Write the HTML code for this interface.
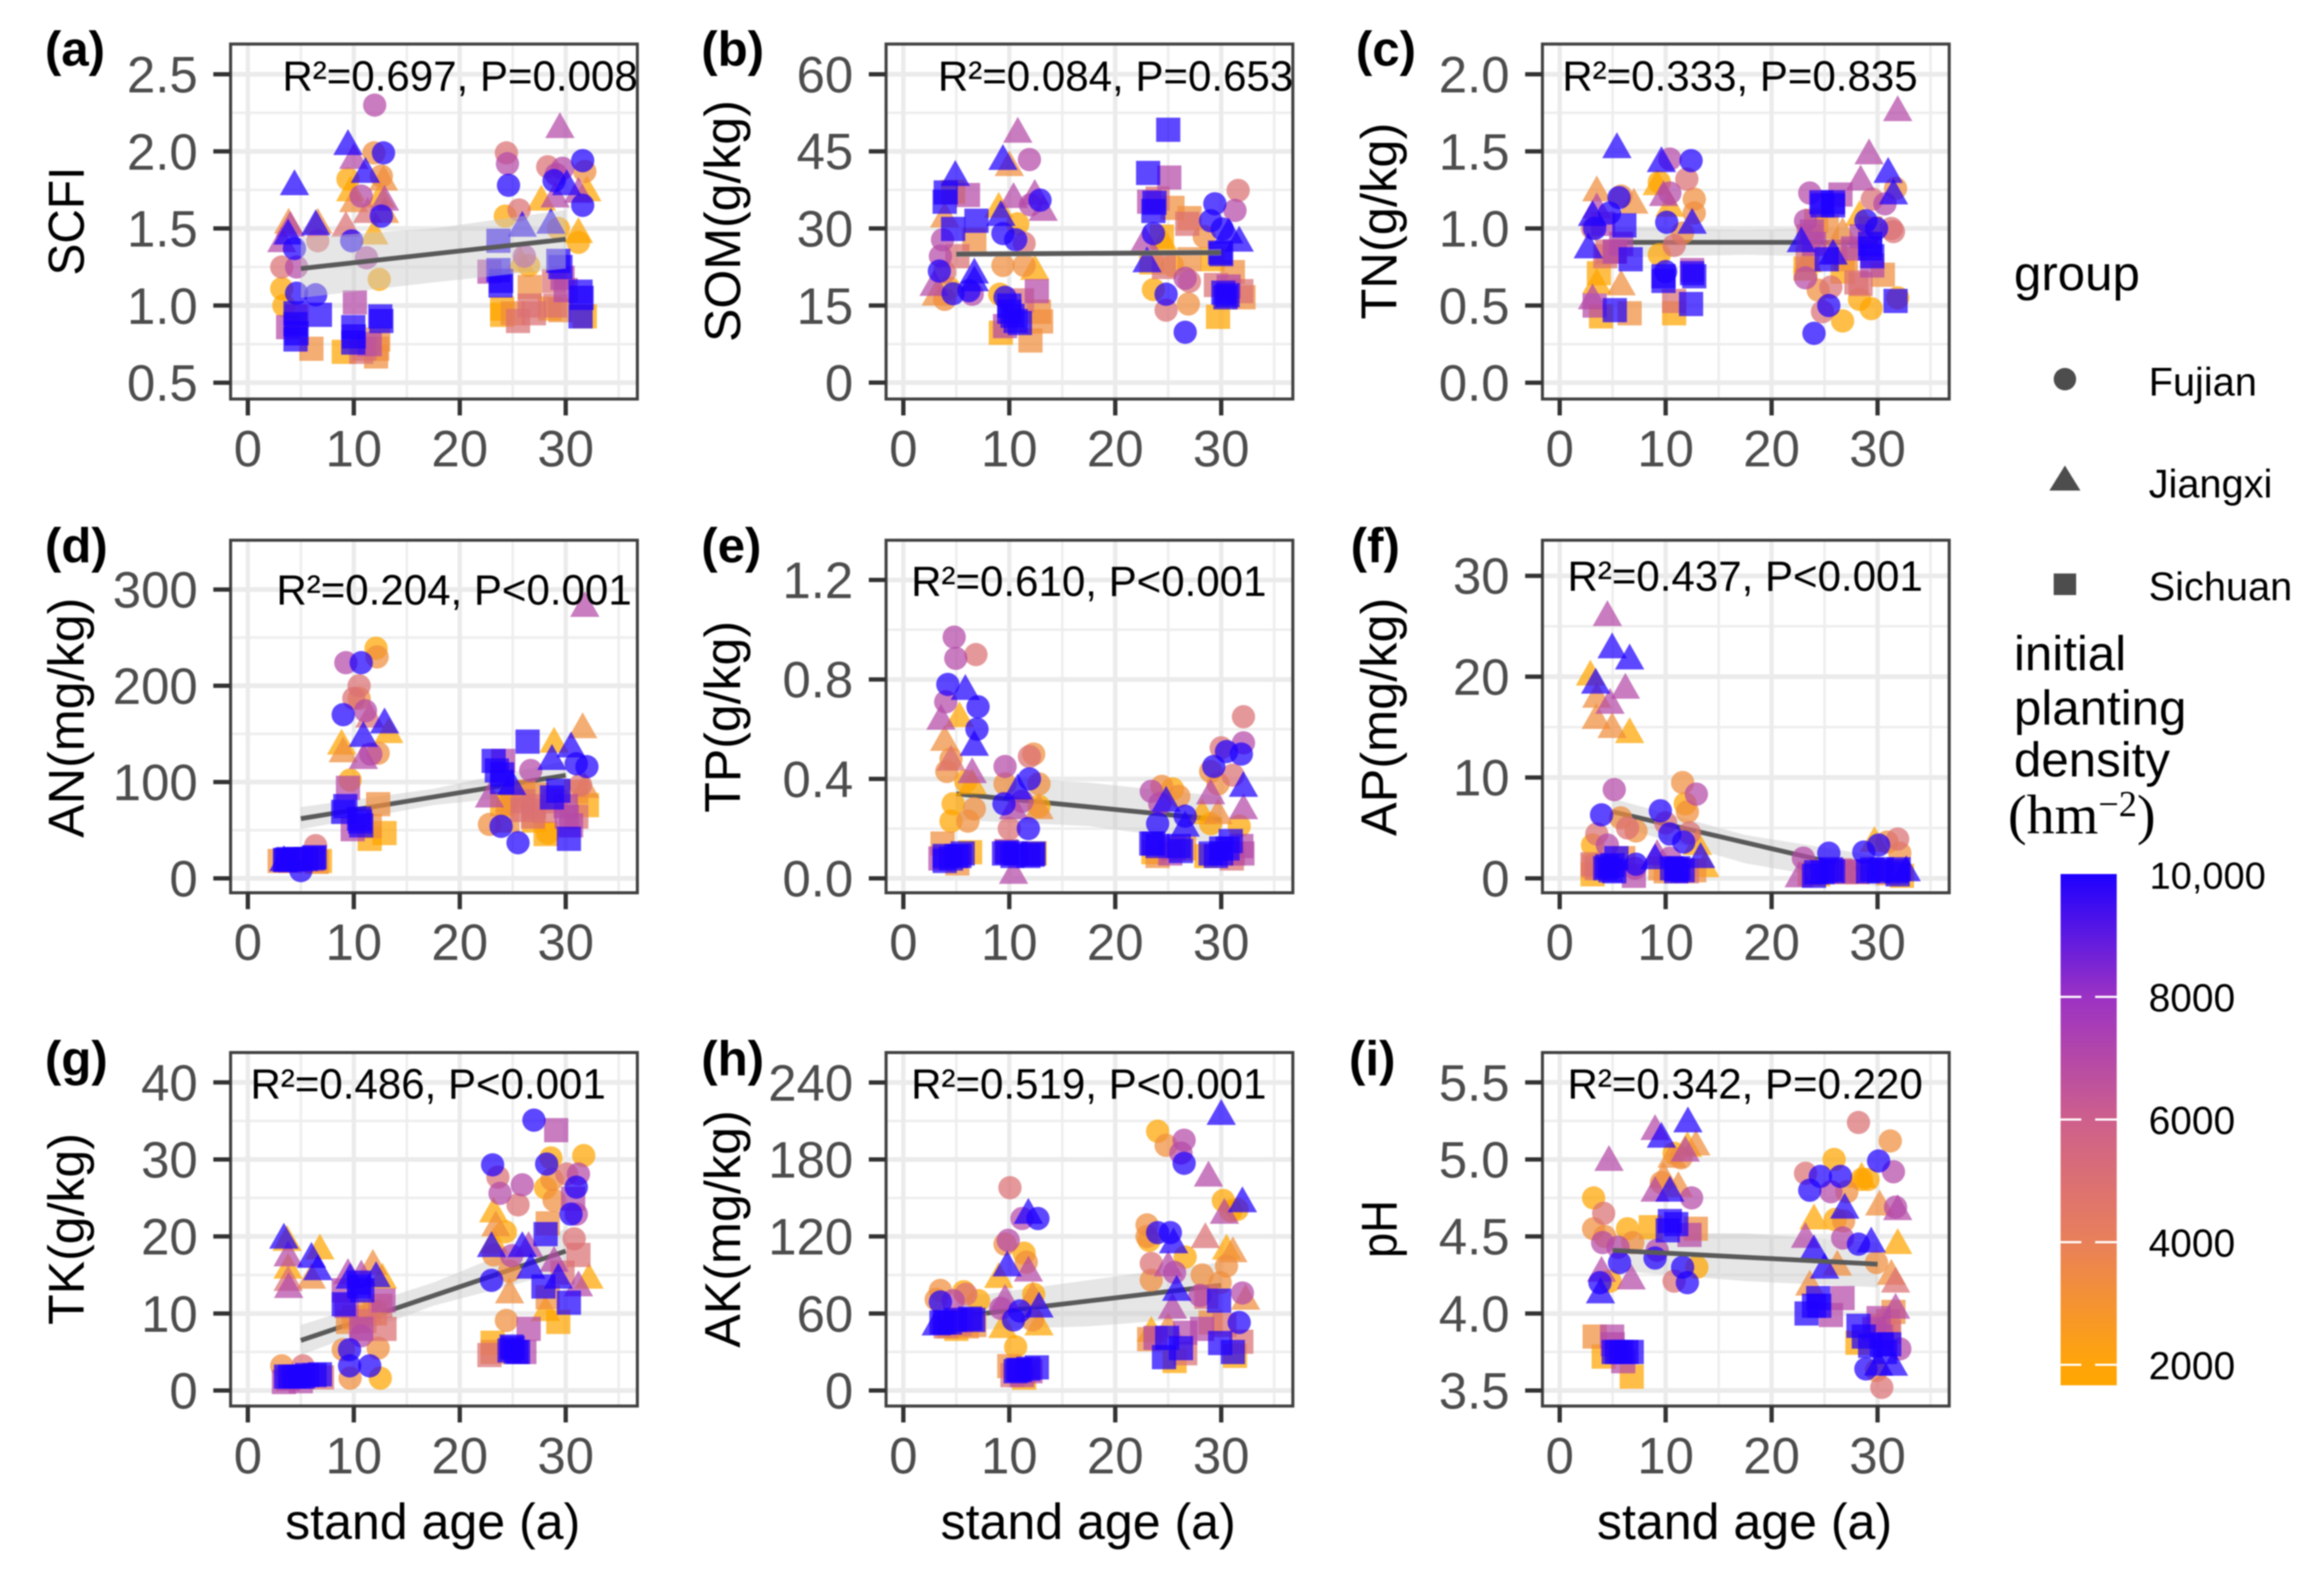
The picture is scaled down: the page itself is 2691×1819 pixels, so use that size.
<!DOCTYPE html>
<html lang="en">
<head>
<meta charset="utf-8">
<title>Soil properties versus stand age</title>
<style>
html,body{margin:0;padding:0;background:#fff;}
svg{display:block;filter:blur(0.9px);}
text{font-family:"Liberation Sans",sans-serif;}
.tag{font-size:57px;font-weight:bold;fill:#000;}
.ytitle{font-size:58px;fill:#000;text-anchor:middle;}
.xtitle{font-size:58px;fill:#000;text-anchor:middle;}
.stat{font-size:48.7px;fill:#000;}
.legtitle{font-size:57px;fill:#000;}
.leglabel{font-size:46px;fill:#000;}
</style>
</head>
<body>
<svg id="chart" xmlns="http://www.w3.org/2000/svg" width="2691" height="1819" viewBox="0 0 2691 1819">
<defs>
<linearGradient id="density-gradient" x1="0" y1="1" x2="0" y2="0">
<stop offset="0" stop-color="#FFA500"/>
<stop offset="0.042" stop-color="#FFA50A"/>
<stop offset="0.281" stop-color="#E8805A"/>
<stop offset="0.521" stop-color="#CD5F8C"/>
<stop offset="0.76" stop-color="#9B32C3"/>
<stop offset="1" stop-color="#1E00FF"/>
</linearGradient>
</defs>
<rect width="2691" height="1819" fill="#fff"/>

<g id="panel-a"></g>
<g id="panel-b"></g>
<g id="panel-c"></g>
<g id="panel-d"></g>
<g id="panel-e"></g>
<g id="panel-f"></g>
<g id="panel-g"></g>
<g id="panel-h"></g>
<g id="panel-i"></g>

<text class="tag" x="52" y="76">(a)</text>
<text class="tag" x="812" y="76">(b)</text>
<text class="tag" x="1570" y="76">(c)</text>
<text class="tag" x="52" y="651">(d)</text>
<text class="tag" x="812" y="651">(e)</text>
<text class="tag" x="1564" y="651">(f)</text>
<text class="tag" x="52" y="1245">(g)</text>
<text class="tag" x="812" y="1245">(h)</text>
<text class="tag" x="1562" y="1245">(i)</text>

<text class="ytitle" transform="translate(97,256) rotate(-90)" textLength="126" lengthAdjust="spacingAndGlyphs">SCFI</text>
<text class="ytitle" transform="translate(857,256) rotate(-90)" textLength="280" lengthAdjust="spacingAndGlyphs">SOM(g/kg)</text>
<text class="ytitle" transform="translate(1617,256) rotate(-90)" textLength="228" lengthAdjust="spacingAndGlyphs">TN(g/kg)</text>
<text class="ytitle" transform="translate(97,831) rotate(-90)" textLength="278" lengthAdjust="spacingAndGlyphs">AN(mg/kg)</text>
<text class="ytitle" transform="translate(857,830) rotate(-90)" textLength="222" lengthAdjust="spacingAndGlyphs">TP(g/kg)</text>
<text class="ytitle" transform="translate(1617,830) rotate(-90)" textLength="276" lengthAdjust="spacingAndGlyphs">AP(mg/kg)</text>
<text class="ytitle" transform="translate(97,1423) rotate(-90)" textLength="222" lengthAdjust="spacingAndGlyphs">TK(g/kg)</text>
<text class="ytitle" transform="translate(857,1423) rotate(-90)" textLength="275" lengthAdjust="spacingAndGlyphs">AK(mg/kg)</text>
<text class="ytitle" transform="translate(1617,1423) rotate(-90)" textLength="67" lengthAdjust="spacingAndGlyphs">pH</text>

<text class="xtitle" x="501" y="1782">stand age (a)</text>
<text class="xtitle" x="1260" y="1782">stand age (a)</text>
<text class="xtitle" x="2020" y="1782">stand age (a)</text>

<text class="stat" x="327" y="105">R²=0.697, P=0.008</text>
<text class="stat" x="1086" y="105">R²=0.084, P=0.653</text>
<text class="stat" x="1809" y="105">R²=0.333, P=0.835</text>
<text class="stat" x="320" y="700">R²=0.204, P&lt;0.001</text>
<text class="stat" x="1055" y="690">R²=0.610, P&lt;0.001</text>
<text class="stat" x="1815" y="684">R²=0.437, P&lt;0.001</text>
<text class="stat" x="290" y="1272">R²=0.486, P&lt;0.001</text>
<text class="stat" x="1055" y="1272">R²=0.519, P&lt;0.001</text>
<text class="stat" x="1815" y="1272">R²=0.342, P=0.220</text>

<g>
<text class="legtitle" x="2332" y="336">group</text>
<circle cx="2391" cy="439" r="13" fill="#4D4D4D"/>
<text class="leglabel" x="2488" y="458">Fujian</text>
<polygon points="2391,539 2409,568 2373,568" fill="#4D4D4D"/>
<text class="leglabel" x="2488" y="576">Jiangxi</text>
<rect x="2378" y="664" width="26" height="25" fill="#4D4D4D"/>
<text class="leglabel" x="2488" y="695">Sichuan</text>
</g>

<g>
<text class="legtitle" x="2332" y="776">initial</text>
<text class="legtitle" x="2332" y="839">planting</text>
<text class="legtitle" x="2332" y="899">density</text>
<text x="2325" y="965" style="font-family:'Liberation Serif',serif;font-size:65px">(hm<tspan dy="-20" font-size="42">−2</tspan><tspan dy="20">)</tspan></text>
<rect x="2386" y="1012" width="65" height="592" fill="url(#density-gradient)"/>
<rect x="2386" y="1153" width="24" height="2.5" fill="#fff"/>
<rect x="2426" y="1153" width="25" height="2.5" fill="#fff"/>
<rect x="2386" y="1295" width="24" height="2.5" fill="#fff"/>
<rect x="2426" y="1295" width="25" height="2.5" fill="#fff"/>
<rect x="2386" y="1437" width="24" height="2.5" fill="#fff"/>
<rect x="2426" y="1437" width="25" height="2.5" fill="#fff"/>
<rect x="2386" y="1579" width="24" height="2.5" fill="#fff"/>
<rect x="2426" y="1579" width="25" height="2.5" fill="#fff"/>
<text class="leglabel" x="2489" y="1029" style="font-size:44px">10,000</text>
<text class="leglabel" x="2488" y="1171" style="font-size:45px">8000</text>
<text class="leglabel" x="2488" y="1313" style="font-size:45px">6000</text>
<text class="leglabel" x="2488" y="1455" style="font-size:45px">4000</text>
<text class="leglabel" x="2488" y="1597" style="font-size:45px">2000</text>
</g>
</svg>

<script>
// ---------- Shared axis values ----------
const xTicks=[0,10,20,30];
const xMinorTicks=[5,15,25,35];
const xDomain=[-1.63,36.76];
const ribbonAges=[5,17.5,30];
const fitAges=[5,30];
const densityStopValues=[2000,4000,6000,8000,10000];

// ---------- Panel a: SCFI ----------
const yTicksA=[0.5,1,1.5,2,2.5];
const yLabelsA=["0.5","1.0","1.5","2.0","2.5"];
const yDomainA=[0.394,2.696];
const fitA=[1.24,1.43];
const ribbonLoA=[1.05,1.15,1.24];
const ribbonHiA=[1.44,1.5,1.62];
const ageAF=[11.97,12.8,11.9,9.45,12.6,10.7,12.6,9.8,11.2,12.4,3.2,4.4,4.6,3.2,3.4,4.6,6.4,6.6,24.4,24.5,24.6,25.6,24.3,26.1,26.5,29.3,31.2,28.9,28.3,31.6,31.8,31.6,29.7,29.1];
const valueAF=[2.3,1.99,1.99,1.82,1.84,1.71,1.58,1.42,1.31,1.17,1.25,1.37,1.25,1.11,1.0,1.08,1.07,1.42,1.99,1.92,1.78,1.62,1.58,1.32,1.26,1.5,1.41,1.81,1.9,1.94,1.87,1.65,1.89,1.85];
const densityAF=[7,10,3.3,2,3.3,7,10,10,7,2,5,10,7,2,2,10,10,5,5,7,10,5,2,7,2,2,2,10,5,10,3.3,10,7,7];
const ageAJ=[29.45,9.45,4.4,6.4,6.6,3.85,4,3.8,3.2,9.25,11.1,10,12.8,12.5,12.9,10,9.7,11.9,12.9,11.3,25.9,28.6,31.2,27.7,32,30.1,31.2,29,25.7];
const valueAJ=[2.17,2.06,1.8,1.54,1.55,1.55,1.53,1.48,1.43,1.53,1.88,1.97,1.83,1.72,1.7,1.69,1.76,1.48,1.62,1.62,1.53,1.55,1.49,1.7,1.76,1.8,1.75,1.72,1.3];
const densityAJ=[7,10,10,10,3.3,3.3,7,10,7,5,10,7,3.3,2,7,3.3,2,2,3.3,5,10,10,2,2,2,10,7,7,2];
const ageAS=[23.65,23.65,22.8,23.85,24,26.6,26.6,25.5,24,29.3,28.9,29.7,28.5,29.5,31.4,31.4,31.8,4.5,4.5,3.8,6.8,6,10.1,9.95,9.95,9.05,10.7,12.5,12.3,12.1,4.6,4.5,4.6,10,12.6,31.5,23.9,11,12.2,11.5,25,27,29,30,29.5];
const valueAS=[1.42,1.23,1.22,1.13,0.98,1.12,1.0,0.9,0.94,1.29,1.16,1.18,0.98,0.97,1.09,0.93,0.93,0.95,0.78,0.86,0.94,0.72,1.02,0.86,0.76,0.7,0.7,0.93,0.78,0.67,0.93,0.88,0.82,0.8,0.9,1.05,1.16,0.72,0.72,0.75,0.95,0.95,1.0,1.1,1.25];
const densityAS=[10,10,7,10,2,3.3,5,5,2,10,5,7,2,3.3,10,10,2,10,10,7,10,3.3,7,10,10,2,5,10,3.3,3.3,7,10,10,10,10,10,10,5,3.3,7,3.3,5,5,7,10];

// ---------- Panel b: SOM ----------
const yTicksB=[0,15,30,45,60];
const yLabelsB=["0","15","30","45","60"];
const yDomainB=[-3.19,65.88];
const fitB=[25,25.3];
const ribbonLoB=[24.4,24.6,24.7];
const ribbonHiB=[25.6,25.7,26];
const ageBF=[11.9,12.9,12,10.8,9.4,10.6,11.4,9.4,11.4,9.1,9.6,3.4,3.7,3.5,3.9,4.3,3.9,4.7,6.2,6.5,31.6,31.3,29.4,29,30.1,28.4,23.6,23.6,24.8,24.8,26.9,26.6,26.6,27,25.4];
const valueBF=[43.4,35.5,34.6,30.9,29,27.8,27.1,22.8,22.8,17.2,16.6,21.7,27.8,24.6,21.5,18.4,16.2,17.3,17.9,17.2,37.4,33.5,34.8,31.5,29.9,28.4,29,18.1,17.2,14.1,15.3,9.8,20.3,19.7,22.8];
const densityBF=[7,10,7,2,10,10,5,3.3,3.3,2,10,10,7,7,5,2,3.3,10,10,7,5,7,10,10,10,3.3,10,2,10,5,3.3,10,7,5,2];
const ageBJ=[10.8,9.4,10,4.9,10.4,12.4,13.2,9,9.2,3.9,6.7,6.7,2.9,3.1,12.4,22.8,31.7,30.7,23,24.6];
const valueBJ=[49.2,43.9,42.7,40.8,36.5,37.1,34,34.6,33,32.7,21.8,20.3,19.4,17.5,22.5,28,28,29.6,24,27.8];
const densityBJ=[7,10,3.3,10,7,7,7,2,10,3.3,10,10,7,3.3,2,7,10,10,10,2];
const ageBS=[25,23.1,25.1,23.2,24,23.6,25.4,24.4,23.4,24.6,26.8,27,27,29.7,30.4,29.9,29.2,31.1,29.5,30.7,31.9,32.1,3.9,4.7,6.9,6.1,4.7,6.7,5.1,10,11,9.2,9.6,12.6,11.2,13,12,12.8,10.3,10.6,10,30.6,30.2,30,23.7,4];
const valueBS=[49.2,40.8,39.9,35.2,35.8,33.4,34,28.4,23.4,22.5,30.9,32,24,12.8,16.6,25.3,24,21.5,19,18.7,17.8,16.6,35.2,29.9,31.5,36.5,37.1,27.8,24.6,13.8,11.6,9.7,11,17.8,16,11.9,8.2,13.8,13,12,15,17,17.5,25,35,37];
const densityBS=[10,10,7,7,5,10,3.3,2,2,5,5,3.3,3.3,2,10,10,2,3.3,5,7,5,3.3,10,10,10,7,2,3.3,5,10,10,2,7,7,5,3.3,3.3,3.3,10,10,10,10,10,10,10,10];

// ---------- Panel c: TN ----------
const yTicksC=[0,0.5,1,1.5,2];
const yLabelsC=["0.0","0.5","1.0","1.5","2.0"];
const yDomainC=[-0.106,2.196];
const fitC=[0.91,0.91];
const ribbonLoC=[0.81,0.83,0.81];
const ribbonHiC=[1.01,0.99,1.01];
const ageCF=[12.4,10.4,12,9.4,10.4,12.7,12.7,10.1,11.6,10.8,9.4,10,5.8,5.6,4.7,3.3,3.1,23.6,23.2,23.2,24.4,25.6,25.4,24.8,24,26.7,29.4,28.3,31.9,31.7,30.7,29.5,28.9,29.9,31.5,31.3];
const valueCF=[1.44,1.45,1.32,1.3,1.23,1.19,1.1,1.04,0.97,0.89,0.83,0.72,1.21,1.2,1.1,1,1,1.23,1.05,0.68,0.6,0.62,0.5,0.46,0.32,0.4,0.48,0.54,0.55,1.26,1.16,1.19,1.05,1,0.98,1];
const densityCF=[10,7,5,2,7,3.3,3.3,10,3.3,5,2,10,3.3,10,10,10,5,7,7,7,3.3,5,10,5,10,2,2,2,2,3.3,7,5,10,10,5,5];
const ageCJ=[31.9,29.2,31,28.4,31.5,5.4,9.6,9.2,9.8,3.5,7,3.1,2.7,3.5,3.5,5.8,3.1,12.5,10.4,22.8,25.8,23.4,26.7,28.3];
const valueCJ=[1.78,1.5,1.38,1.33,1.24,1.54,1.45,1.3,1.23,1.26,1.18,1.1,0.89,1.15,0.66,0.65,0.56,1.05,1.16,0.93,0.85,0.8,0.99,1.1];
const densityCJ=[7,7,10,7,10,10,10,2,7,3.3,3.3,10,10,7,2,3.3,7,10,2,10,10,2,3.3,2];
const ageCS=[6.1,4.1,6.7,5.2,4.3,3.7,3.9,3.3,5.2,6.6,9.8,12.7,12.5,12.4,10.8,10.8,24.7,25.8,26.5,23.8,24.2,25.2,23.4,23.2,25.2,29.3,29.3,27.7,28.4,30.5,29.5,31.7,26.7,29.3,29.5,25.8,24.8,9.8,12.5,28,27,26,24,23.5,28.5,5.2,4.5,5.8];
const valueCS=[1.02,1.03,0.8,0.85,0.82,0.71,0.43,0.5,0.47,0.45,0.66,0.69,0.73,0.51,0.45,0.53,1.17,1.17,1.22,0.98,1.05,0.8,0.8,0.74,1.01,0.87,1,0.87,0.64,0.7,0.76,0.53,0.72,0.9,0.82,1.15,1.15,0.69,0.71,0.65,0.8,0.85,0.9,0.95,0.95,0.85,0.85,0.9];
const densityCS=[10,7,10,5,5,2,2,7,10,3.3,10,10,7,10,2,5,10,10,7,7,3.3,10,5,2,3.3,10,3.3,7,5,3.3,7,10,2,10,10,10,10,10,10,5,3.3,5,7,5,7,7,5,7];

// ---------- Panel d: AN ----------
const yTicksD=[0,100,200,300];
const yLabelsD=["0","100","200","300"];
const yDomainD=[-15,351.2];
const fitD=[62,107];
const ribbonLoD=[51,76,90];
const ribbonHiD=[74,93,122];
const ageDF=[12.1,12.2,9.25,10.7,10.5,10.5,10,11.1,9,12.3,11.6,9.65,26.7,23.9,25.5,24.5,32,31,31.4,22.8,28.3,5,6.4];
const valueDF=[239,230,224,224,200,187,187,174,170,130,129,102,112,54,37,77,116,119,97,56,47,8,34];
const densityDF=[2,3.3,7,10,5,3.3,5,7,10,3.3,7,2,7,10,10,2,10,10,5,3.3,2,10,5];
const ageDJ=[31.8,31.6,28.9,30.5,28.7,12.9,13.3,10.9,11.5,8.85,9,10.9,24.9,22.8,31.8,3.4];
const valueDJ=[285,159,144,139,126,164,154,150,170,142,134,127,100,87,97,21];
const densityDJ=[7,3.3,2,10,10,10,2,10,5,2,3.3,7,10,7,3.3,10];
const ageDS=[26.4,23.2,24.1,24,9.45,9,10.6,9.9,12.3,11.5,11.5,12.9,24,25.9,26.9,28.1,30.3,28.7,29.3,30.1,32,31,27.3,3.6,6.2,6.8,3,5,3.8,4.5,5.5,6.3,3.5,6,4,6.5,26,27,28,26,25,24.5,27,30.5,30,29,31,24,23.5,10.7,10.5,9.2];
const valueDS=[142,122,122,100,94,69,59,51,77,54,41,47,77,71,64,46,41,84,91,64,76,64,87,19,21,18,18,19,20,20,20,22,19,20,18,17,80,75,70,90,85,60,60,55,75,80,90,108,112,55,62,75];
const densityDS=[10,10,7,10,7,10,10,7,3.3,3.3,2,2,2,5,5,2,10,10,10,7,2,5,3.3,10,10,2,3.3,7,10,10,10,10,10,7,5,3.3,5,5,5,3.3,3.3,3.3,2,7,7,5,3.3,10,10,10,10,10];

// ---------- Panel e: TP ----------
const yTicksE=[0,0.4,0.8,1.2];
const yLabelsE=["0.0","0.4","0.8","1.2"];
const yDomainE=[-0.058,1.36];
const fitE=[0.34,0.235];
const ribbonLoE=[0.235,0.21,0.14];
const ribbonHiE=[0.416,0.385,0.33];
const ageEF=[4.8,4.95,6.85,4.2,7.05,4,6.95,4.5,4.1,5.9,4.7,4.5,6.7,6.1,12.3,11.9,9.6,11.9,9.6,12.8,9.5,11.2,12.8,11.8,10,24.4,23.4,25.4,24.2,26,24,26.6,29,29.3,30.5,31.9,30,32.1,32.1,29,29.7,31.1,31.7];
const valueEF=[0.97,0.885,0.9,0.78,0.69,0.71,0.6,0.48,0.43,0.39,0.3,0.23,0.28,0.23,0.5,0.49,0.45,0.4,0.38,0.38,0.3,0.31,0.29,0.2,0.2,0.37,0.35,0.36,0.3,0.33,0.22,0.25,0.22,0.45,0.51,0.5,0.525,0.545,0.65,0.43,0.38,0.415,0.21];
const densityEF=[7,7,5,10,10,7,10,3.3,3.3,2,2,2,3.3,3.3,3.3,5,7,10,3.3,3.3,10,7,2,10,5,3.3,7,2,7,3.3,10,10,2,10,10,10,5,7,5,3.3,3.3,5,2];
const ageEJ=[5.85,3.55,5.3,3.9,6.7,4.5,6.5,6.5,10.8,10.4,12.8,10.4,32.1,32.1,29,29.7,24.8,26.6,28.2];
const valueEJ=[0.77,0.65,0.66,0.565,0.545,0.485,0.435,0.39,0.37,0.29,0.29,0.03,0.38,0.29,0.35,0.27,0.32,0.22,0.27];
const densityEJ=[10,7,2,3.3,10,5,7,2,10,7,3.3,7,10,7,7,3.3,10,10,2];
const ageES=[3.7,3.5,3.9,5.3,6.3,5.1,9.8,10.6,12.2,12.4,23.6,23.6,26,25.2,28.6,29,30,30.9,31.9,31.1,3.9,4.5,5,5.6,9.5,10.3,11.8,12.3,9.7,23.4,24,30,30.6,29.5,31,32,25.5,26.2,26.5,24];
const valueES=[0.14,0.08,0.07,0.09,0.105,0.06,0.105,0.1,0.095,0.1,0.14,0.105,0.13,0.1,0.09,0.1,0.1,0.15,0.13,0.1,0.09,0.08,0.09,0.1,0.1,0.09,0.09,0.1,0.11,0.14,0.13,0.12,0.12,0.09,0.08,0.1,0.12,0.11,0.12,0.09];
const densityES=[3.3,7,10,10,2,3.3,10,10,10,2,10,2,10,7,2,10,10,10,7,5,10,10,10,10,10,10,10,10,5,10,10,10,10,10,5,7,7,10,3.3,3.3];

// ---------- Panel f: AP ----------
const yTicksF=[0,10,20,30];
const yLabelsF=["0","10","20","30"];
const yDomainF=[-1.43,33.53];
const fitF=[6.6,0.5];
const ribbonLoF=[5.3,1.5,-0.8];
const ribbonHiF=[7.9,4.3,2.2];
const ageFF=[5.15,11.6,12.9,11.85,12.05,9.5,3.95,5.75,6.4,7.2,3.5,10.4,11.7,12.25,3.1,4.5,10,7.2,7.1,10.4,23,25.4,28.7,30.1,31.9,30.9,32.1];
const valueFF=[8.8,9.5,8.35,7.4,6.6,6.7,6.3,6,5,4.7,4.4,4.4,3.6,4.5,3.3,3.3,5.5,1.4,1,2,2,2.5,2.6,3.3,3.9,3.6,2.5];
const densityFF=[7,3.3,7,2,3.3,10,10,3.3,5,3.3,5,10,10,5,2,7,5,10,7,7,7,10,10,10,5,3.3,3.3];
const ageFJ=[4.5,4.95,6.6,2.9,3.4,6.2,3.5,4.75,3.45,4.95,6.6,9.2,9,13.7,13.3,13,22.6,29.7,32.7];
const valueFJ=[26.3,23.1,22,20.4,19.6,19.1,18.2,17.6,16.1,15.2,14.7,2.6,2.2,1.4,2.3,3.6,0.4,3.9,1];
const densityFJ=[7,10,10,2,10,7,3.3,7,3.3,3.3,2,7,10,2,10,2,7,2,10];
const ageFS=[3.1,3.1,4.3,5.35,5.15,6,7,10,11,12,24,24.4,25.8,28.1,29.1,30.1,31.9,32.3,25.2,4.5,5,4.8,10.6,11.2,11.6,11,24.2,24.8,25.6,29.5,30.4,31.8,32,27,27.7,26.5,3.5,3.2,31,23.6,9.5,12.7];
const valueFS=[1.4,0.4,1,2,0.7,2,0.25,0.7,0.7,0.7,0.25,0.4,0.7,0.6,0.7,0.7,0.4,0.25,0.7,1.2,1.3,0.8,1,1,0.8,0.9,0.6,0.6,0.9,0.9,0.9,0.7,0.9,0.6,0.7,0.8,1,1.2,0.5,0.4,1,0.8];
const densityFS=[5,2,10,10,10,3.3,7,3.3,10,5,10,2,10,5,10,10,10,2,7,10,10,10,10,10,10,10,10,10,10,10,10,10,10,5,7,5,5,3.3,3.3,3.3,3.3,3.3];

// ---------- Panel g: TK ----------
const yTicksG=[0,10,20,30,40];
const yLabelsG=["0","10","20","30","40"];
const yDomainG=[-2.02,43.88];
const fitG=[6.5,18.1];
const ribbonLoG=[4.6,11,15.5];
const ribbonHiG=[8.5,14,21];
const ageGF=[27,31.7,28.6,28.2,23.1,23.6,23.8,25.9,25.5,28.1,28.7,30.1,31.2,31,28.9,30.5,31,30.8,24.3,23.2,24.9,24.7,23,24.4,9.6,9,10.7,12.3,9.6,11.5,9.65,12.5,3.2,5.2];
const valueGF=[35.1,30.5,30.2,29.4,29.3,27.7,25.6,26.7,24.1,26.3,27.4,28.1,28.1,26.4,24.7,22.9,22.9,19.7,20.6,17.6,17.5,15.5,14.3,9.1,5.3,5.3,7.1,5.5,3.2,3.2,1.6,1.6,3.2,3.2];
const densityGF=[10,2,2,10,10,5,7,7,5,2,3.3,5,7,10,3.3,10,7,5,2,3.3,7,3.3,10,3.3,10,3.3,7,3.3,10,10,3.3,2,3.3,5];
const ageGJ=[3.4,3.7,6.8,6,3.8,3.8,6.6,6,3.8,3.85,9.45,9.65,10.7,11.8,12.1,12.7,23.2,23.4,23,23.2,25.9,26.7,24.7,26.5,28.9,32.2,31.2,29.3,28.1];
const valueGJ=[20.1,19.8,18.7,17.6,17.8,16.2,16,14.9,14.6,13.7,15.5,14.9,15.3,16.7,15.1,14.9,23.5,21.7,19,19.5,19,16.2,13,19,17.1,14.9,13.9,14.9,10.7];
const densityGJ=[10,2,2,10,7,2,10,3.3,5,7,7,10,7,3.3,10,2,2,3.3,10,2,10,10,3.3,7,7,2,7,10,2];
const ageGS=[29.1,30.7,28.3,28.1,27.9,30.3,28.3,29.3,29.7,31.2,26.5,23.1,23.1,24.9,26.1,25.3,22.8,10.5,9.05,9.05,12.8,9.45,11.5,12.9,10.7,3.6,4.8,6.8,3.4,4,4.4,5.2,5.6,6.3,25,25.5,24.7,3.8,5,7,10.5,10.8,9.3,11,12,12.5,10];
const valueGS=[33.8,24.9,21.7,20.3,13.5,11.4,12.1,8.9,15.3,17.6,8,6.2,5,5.7,5,5,4.6,13.5,11.2,13,11.7,8.9,10.3,8,8,1.8,1.8,2.1,1.1,1.8,1.8,1.8,2,2,5.5,5,5.2,1.5,1.2,1.7,14,13,11,9,10,11,9.5];
const densityGS=[7,7,3.3,10,10,10,3.3,2,5,5,7,2,3.3,10,7,10,5,10,10,7,7,3.3,3.3,5,7,10,10,10,7,10,10,10,10,10,10,10,10,7,7,5,10,10,7,5,3.3,5,3.3];

// ---------- Panel h: AK ----------
const yTicksH=[0,60,120,180,240];
const yLabelsH=["0","60","120","180","240"];
const yDomainH=[-12.1,263.3];
const fitH=[57.5,82];
const ribbonLoH=[47,50,58];
const ribbonHiH=[72,86,100];
const ageHF=[10.06,11.2,12.7,9.9,9.6,11.4,11.6,12.3,9.2,11,10.4,12.2,10.6,3.5,3.1,3.5,5.9,5.7,4.7,7.1,24,24.8,26.5,26.2,26.5,23,23.2,23,24,25.2,26.6,23.4,23.4,25.6,30.2,30.9,31.5,30.5,28.2,28,32,29.9,31.7];
const valueHF=[158,134,134,117,114,107,100,75,64,62,55,55,34,78,71,69,75,77,70,70,202,191,195,185,177,129,117,120,123,123,104,99,86,92,148,140,141,97,90,74,76,84,53];
const densityHF=[5,7,10,7,3.3,2,3.3,2,7,10,10,3.3,2,3.3,3.3,10,5,2,7,2,2,3.3,7,7,10,3.3,2,3.3,10,10,2,5,3.3,7,2,2,2,3.3,3.3,7,7,3.3,10];
const ageHJ=[30,32,28.8,30.3,28.5,30.5,31.1,9.8,9,11.8,9.6,11.8,12.8,12.2,9.4,12.8,25.5,25,25.8,25.4,23.4,25,3.1,32.3];
const valueHJ=[217,149,169,140,121,112,110,99,90,95,73,140,67,75,51,53,117,99,80,66,48,51,53,73];
const densityHJ=[10,10,7,7,5,2,3.3,10,2,7,7,10,10,3.3,2,2,10,7,10,7,2,3.3,10,3.3];
const ageHS=[3.9,4.3,6.3,5.3,6.7,10,10.8,12.6,11.4,11.2,23.2,23.8,24.9,24.6,26.2,26.6,26.6,25.6,29.8,29,30.3,29.9,31.1,31.3,31.9,28.6,28.2,3.6,4.4,4.9,5.5,6.6,5,6,4,10.6,11,11.8,12,10.3];
const valueHS=[53,50,56,52,51,19,16,18,10,12,40,41,41,26,33,45,29,23,70,53,51,37,30,27,38,73,48,53,53,55,55,55,48,50,50,15,16,17,15,12];
const densityHS=[10,2,10,5,3.3,3.3,10,10,2,7,3.3,7,10,10,10,7,5,2,10,3.3,5,10,10,2,5,5,7,10,10,10,7,10,2,3.3,5,10,10,10,7,5];

// ---------- Panel i: pH ----------
const yTicksI=[3.5,4,4.5,5,5.5];
const yLabelsI=["3.5","4.0","4.5","5.0","5.5"];
const yDomainI=[3.399,5.694];
const fitI=[4.41,4.32];
const ribbonLoI=[4.28,4.21,4.17];
const ribbonHiI=[4.52,4.52,4.46];
const ageIF=[3.2,4.15,3.2,4.25,4.05,6.4,6.9,5.5,5.65,3.8,4.75,9,9.2,11.6,12.95,10.8,12.05,12.45,10.8,11.45,9.6,28.2,31.2,25.9,30.1,31.5,24.6,26.5,23.2,23.6,25.6,27.1,28.5,29.1,26,26.8,28.2,26.7,31.7,29.9,28.9,30.4,29.9,32.1];
const valueIF=[4.75,4.65,4.55,4.5,4.46,4.55,4.46,4.43,4.33,4.2,4.21,4.36,4.41,4.3,4.3,4.21,4.2,4.75,5.04,5.01,4.85,5.24,5.12,5,4.99,4.92,4.89,4.89,4.91,4.8,4.79,4.79,4.87,4.87,4.61,4.6,4.45,4.49,4.69,4.33,3.64,3.52,3.63,3.77];
const densityIF=[2,5,3.3,3.3,7,2,3.3,7,10,10,2,10,7,10,2,5,10,7,2,3.3,3.3,5,3.3,2,10,7,10,10,5,10,7,3.3,2,2,2,3.3,10,7,7,3.3,10,5,3.3,7];
const ageIJ=[4.65,9,9.6,12.1,12.05,12.85,11.85,10.6,9,10.4,11.2,9.8,3.95,3.85,6.75,24,23.2,24,25,26.2,23.6,26.9,29.4,28.5,30.2,31.9,31.9,31.3,31.7,31.7,31.5,30.1];
const valueIJ=[5.01,5.21,5.16,5.26,5.1,5.11,5.07,5.03,4.81,4.81,4.84,4.9,4.29,4.15,4.24,4.63,4.51,4.43,4.31,4.33,4.2,4.7,4.48,4.9,4.72,4.47,4.69,4.27,4.22,4.05,3.68,3.68];
const densityIJ=[7,7,10,10,2,3.3,7,3.3,7,10,3.3,3.3,7,10,7,2,7,10,10,3.3,3.3,10,10,2,3.3,2,7,3.3,5,7,10,10];
const ageIS=[8.6,10.4,10.2,12.85,12.25,3.3,4.95,4.15,5.1,6.8,6,6.8,23.3,24.4,26.7,25.6,28.2,28.1,29.3,30.1,31.1,31.5,30.3,31.1,5.4,5.8,6.3,5,28.7,30.4,30.7,29.7,31,30.5,24,24.5,11];
const valueIS=[4.56,4.6,4.54,4.55,4.51,3.85,3.85,3.72,3.75,3.75,3.69,3.59,4,4.1,4.1,3.99,3.92,3.81,3.79,3.97,3.8,4.01,3.85,3.88,3.75,3.75,3.75,3.8,3.85,3.8,3.75,3.9,3.95,3.92,4.05,4.05,4.58];
const densityIS=[2,10,10,3.3,7,3.3,7,2,10,10,7,2,10,10,7,7,10,2,10,7,10,3.3,7,5,10,10,10,7,10,10,10,7,5,3.3,10,10,10];

const panels=[
 {id:"a",left:267,top:51,bottom:462,yDomain:yDomainA,yTicks:yTicksA,yLabels:yLabelsA,fit:fitA,lo:ribbonLoA,hi:ribbonHiA,ribbonOnTop:true,lineOnTop:true,
  series:[["F",ageAF,valueAF,densityAF],["J",ageAJ,valueAJ,densityAJ],["S",ageAS,valueAS,densityAS]]},
 {id:"b",left:1026,top:51,bottom:462,yDomain:yDomainB,yTicks:yTicksB,yLabels:yLabelsB,fit:fitB,lo:ribbonLoB,hi:ribbonHiB,ribbonOnTop:true,lineOnTop:true,
  series:[["F",ageBF,valueBF,densityBF],["J",ageBJ,valueBJ,densityBJ],["S",ageBS,valueBS,densityBS]]},
 {id:"c",left:1786,top:51,bottom:462,yDomain:yDomainC,yTicks:yTicksC,yLabels:yLabelsC,fit:fitC,lo:ribbonLoC,hi:ribbonHiC,ribbonOnTop:false,lineOnTop:false,
  series:[["F",ageCF,valueCF,densityCF],["J",ageCJ,valueCJ,densityCJ],["S",ageCS,valueCS,densityCS]]},
 {id:"d",left:267,top:625.5,bottom:1033.7,yDomain:yDomainD,yTicks:yTicksD,yLabels:yLabelsD,fit:fitD,lo:ribbonLoD,hi:ribbonHiD,ribbonOnTop:false,lineOnTop:false,
  series:[["F",ageDF,valueDF,densityDF],["J",ageDJ,valueDJ,densityDJ],["S",ageDS,valueDS,densityDS]]},
 {id:"e",left:1026,top:625.5,bottom:1033.7,yDomain:yDomainE,yTicks:yTicksE,yLabels:yLabelsE,fit:fitE,lo:ribbonLoE,hi:ribbonHiE,ribbonOnTop:false,lineOnTop:false,
  series:[["F",ageEF,valueEF,densityEF],["J",ageEJ,valueEJ,densityEJ],["S",ageES,valueES,densityES]]},
 {id:"f",left:1786,top:625.5,bottom:1033.7,yDomain:yDomainF,yTicks:yTicksF,yLabels:yLabelsF,fit:fitF,lo:ribbonLoF,hi:ribbonHiF,ribbonOnTop:false,lineOnTop:false,
  series:[["F",ageFF,valueFF,densityFF],["J",ageFJ,valueFJ,densityFJ],["S",ageFS,valueFS,densityFS]]},
 {id:"g",left:267,top:1218.7,bottom:1628,yDomain:yDomainG,yTicks:yTicksG,yLabels:yLabelsG,fit:fitG,lo:ribbonLoG,hi:ribbonHiG,ribbonOnTop:false,lineOnTop:false,
  series:[["F",ageGF,valueGF,densityGF],["J",ageGJ,valueGJ,densityGJ],["S",ageGS,valueGS,densityGS]]},
 {id:"h",left:1026,top:1218.7,bottom:1628,yDomain:yDomainH,yTicks:yTicksH,yLabels:yLabelsH,fit:fitH,lo:ribbonLoH,hi:ribbonHiH,ribbonOnTop:false,lineOnTop:false,
  series:[["F",ageHF,valueHF,densityHF],["J",ageHJ,valueHJ,densityHJ],["S",ageHS,valueHS,densityHS]]},
 {id:"i",left:1786,top:1218.7,bottom:1628,yDomain:yDomainI,yTicks:yTicksI,yLabels:yLabelsI,fit:fitI,lo:ribbonLoI,hi:ribbonHiI,ribbonOnTop:false,lineOnTop:true,
  series:[["F",ageIF,valueIF,densityIF],["J",ageIJ,valueIJ,densityIJ],["S",ageIS,valueIS,densityIS]]}
];

const SVG_NS="http://www.w3.org/2000/svg";
const PANEL_WIDTH=471;
const stopRGB=[[255,165,0],[232,128,90],[205,95,140],[155,50,195],[30,0,255]];

function draw(tag,attrs,parent){
  const node=document.createElementNS(SVG_NS,tag);
  for(const k in attrs){node.setAttribute(k,attrs[k]);}
  parent.appendChild(node);
  return node;
}
function densityColor(thousands){
  const v=thousands*1000;
  let i=0;
  while(i<densityStopValues.length-2&&v>densityStopValues[i+1]){i++;}
  const t=Math.max(0,Math.min(1,(v-densityStopValues[i])/(densityStopValues[i+1]-densityStopValues[i])));
  const c=[0,1,2].map(function(k){return Math.round(stopRGB[i][k]+(stopRGB[i+1][k]-stopRGB[i][k])*t);});
  return "rgb("+c.join(",")+")";
}

panels.forEach(function(p){
  const root=document.getElementById("panel-"+p.id);
  const right=p.left+PANEL_WIDTH;
  const xScale=function(v){return p.left+(v-xDomain[0])/(xDomain[1]-xDomain[0])*PANEL_WIDTH;};
  const yScale=function(v){return p.bottom-(v-p.yDomain[0])/(p.yDomain[1]-p.yDomain[0])*(p.bottom-p.top);};

  const clip=draw("clipPath",{id:"clip-"+p.id},root);
  draw("rect",{x:p.left,y:p.top,width:PANEL_WIDTH,height:p.bottom-p.top},clip);

  // minor grid
  xMinorTicks.forEach(function(t){
    const ln=draw("line",{x1:xScale(t),x2:xScale(t),y1:p.top,y2:p.bottom,stroke:"#EEEEEE","stroke-width":3},root);
    
    
  });
  for(let i=0;i<p.yTicks.length-1;i++){
    const m=(p.yTicks[i]+p.yTicks[i+1])/2;
    const ln=draw("line",{x1:p.left,x2:right,y1:yScale(m),y2:yScale(m),stroke:"#EEEEEE","stroke-width":3},root);
    
    
  }
  // major grid
  xTicks.forEach(function(t){
    const ln=draw("line",{x1:xScale(t),x2:xScale(t),y1:p.top,y2:p.bottom,stroke:"#EBEBEB","stroke-width":5},root);
    
    
  });
  p.yTicks.forEach(function(t){
    const ln=draw("line",{x1:p.left,x2:right,y1:yScale(t),y2:yScale(t),stroke:"#EBEBEB","stroke-width":5.5},root);
    
    
  });

  function drawRibbon(){
    const upper=ribbonAges.map(function(a,i){return xScale(a)+","+yScale(p.hi[i]);});
    const lower=ribbonAges.map(function(a,i){return xScale(a)+","+yScale(p.lo[i]);}).reverse();
    const ribbon=draw("polygon",{points:upper.concat(lower).join(" "),fill:"#C8C8C8","fill-opacity":0.45,"clip-path":"url(#clip-"+p.id+")"},root);
    
    
  }
  function drawFit(){
    const fit=draw("line",{x1:xScale(fitAges[0]),y1:yScale(p.fit[0]),x2:xScale(fitAges[1]),y2:yScale(p.fit[1]),stroke:"#5A5A5A","stroke-width":5.5},root);
    
    
  }
  if(!p.ribbonOnTop){drawRibbon();}
  if(!p.lineOnTop){drawFit();}

  // points, low density first so that blue sits on top
  const points=[];
  p.series.forEach(function(s){
    const n=Math.min(s[1].length,s[2].length,s[3].length);
    for(let i=0;i<n;i++){points.push({g:s[0],age:s[1][i],val:s[2][i],den:s[3][i],i:points.length});}
  });
  points.sort(function(a,b){return a.den-b.den||a.i-b.i;});
  const markLayer=draw("g",{"clip-path":"url(#clip-"+p.id+")"},root);
  
  
  points.forEach(function(pt){
    const cx=xScale(pt.age),cy=yScale(pt.val),col=densityColor(pt.den);
    let mark;
    if(pt.g==="F"){
      mark=draw("circle",{cx:cx,cy:cy,r:13.5,fill:col,"fill-opacity":0.72},markLayer);
      
    }else if(pt.g==="J"){
      mark=draw("polygon",{points:cx+","+(cy-15)+" "+(cx+17)+","+(cy+15)+" "+(cx-17)+","+(cy+15),fill:col,"fill-opacity":0.72},markLayer);
      
    }else{
      mark=draw("rect",{x:cx-14,y:cy-14,width:28,height:28,fill:col,"fill-opacity":0.72},markLayer);
      
    }
    
  });

  if(p.ribbonOnTop){drawRibbon();}
  if(p.lineOnTop){drawFit();}

  // frame
  const frame=draw("rect",{x:p.left,y:p.top,width:PANEL_WIDTH,height:p.bottom-p.top,fill:"none",stroke:"#404040","stroke-width":3.5},root);
  
  

  // x axis
  xTicks.forEach(function(t){
    const tick=draw("line",{x1:xScale(t),x2:xScale(t),y1:p.bottom,y2:p.bottom+19,stroke:"#333333","stroke-width":5},root);
    
    
    const lab=draw("text",{x:xScale(t),y:p.bottom+78,"text-anchor":"middle","font-size":59,fill:"#4D4D4D"},root);
    lab.textContent=String(t);
    
    
  });
  // y axis
  p.yTicks.forEach(function(t,i){
    const tick=draw("line",{x1:p.left-20,x2:p.left,y1:yScale(t),y2:yScale(t),stroke:"#333333","stroke-width":5},root);
    
    
    const lab=draw("text",{x:p.left-38,y:yScale(t)+21,"text-anchor":"end","font-size":59,fill:"#4D4D4D"},root);
    lab.textContent=p.yLabels[i];
    
    
  });
});
</script>
</body>
</html>
